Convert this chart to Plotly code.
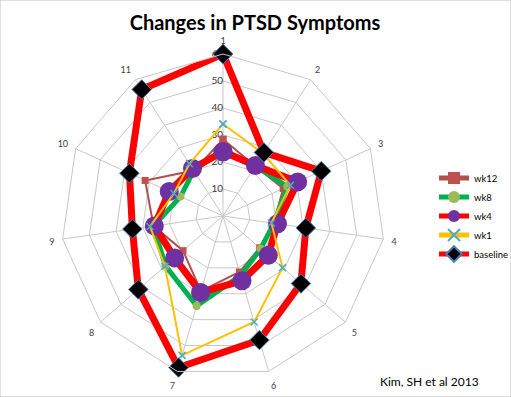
import plotly.graph_objects as go

categories = ["1", "2", "3", "4", "5", "6", "7", "8", "9", "10", "11"]
baseline = [60, 28, 40, 31, 38.2, 47.9, 58.5, 41.5, 33.9, 38.1, 55.7]
wk1 = [34.1, 27.5, 27.4, 18.1, 29.2, 40.9, 53.8, 28.5, 27.3, 20, 23]
wk4 = [23.8, 22.2, 30.4, 20.4, 22.2, 25, 29.5, 23.7, 25.7, 21.9, 20.9]
wk8 = [24.5, 22, 26.2, 19, 18.5, 23, 34.7, 28.2, 26, 17.3, 20]
wk12 = [28.4, 22, 24.5, 19, 18, 21.6, 29, 19.6, 26, 31.7, 20]

radial_ticks = [0, 10, 20, 30, 40, 50, 60]

def closed(vals):
    return vals + vals[:1]

theta = closed(categories)

fig = go.Figure()

# radial tick labels drawn as text on the first spoke (left of the axis)
fig.add_trace(go.Scatterpolar(
    r=radial_ticks, theta=[categories[0]] * len(radial_ticks),
    mode="text", text=[str(v) for v in radial_ticks],
    textposition="middle left", textfont=dict(size=10, color="#404040"),
    showlegend=False, hoverinfo="skip",
))

fig.add_trace(go.Scatterpolar(
    r=closed(wk12), theta=theta, name="wk12", mode="lines+markers",
    line=dict(color="#B0504D", width=2),
    marker=dict(symbol="square", size=7, color="#C0504D"),
))
fig.add_trace(go.Scatterpolar(
    r=closed(wk8), theta=theta, name="wk8", mode="lines+markers",
    line=dict(color="#00B050", width=5),
    marker=dict(symbol="circle", size=8, color="#9BBB59"),
))
fig.add_trace(go.Scatterpolar(
    r=closed(wk4), theta=theta, name="wk4", mode="lines+markers",
    line=dict(color="#FF0000", width=7),
    marker=dict(symbol="circle", size=19, color="#7030A0"),
))
fig.add_trace(go.Scatterpolar(
    r=closed(wk1), theta=theta, name="wk1", mode="lines+markers",
    line=dict(color="#FFC000", width=2),
    marker=dict(symbol="x-thin-open", size=7, color="#4BACC6",
                line=dict(color="#4BACC6", width=1.5)),
))
fig.add_trace(go.Scatterpolar(
    r=closed(baseline), theta=theta, name="baseline", mode="lines+markers",
    line=dict(color="#FF0000", width=7),
    marker=dict(symbol="diamond", size=15, color="#000000",
                line=dict(color="#4A7EBB", width=1)),
))

W, H = 511, 397
cx, cy, R = 223, 216, 162

fig.update_layout(
    width=W, height=H,
    margin=dict(l=0, r=0, t=0, b=0, autoexpand=False),
    paper_bgcolor="white",
    plot_bgcolor="white",
    font=dict(family="Lato, Open Sans, sans-serif", size=9, color="#404040"),
    title=dict(text="<b>Changes in PTSD Symptoms</b>", x=255 / W, xanchor="center",
               y=1 - 23 / H, yanchor="middle",
               font=dict(family="Lato, Open Sans, sans-serif", size=20, color="#000000")),
    polar=dict(
        domain=dict(x=[(cx - R) / W, (cx + R) / W],
                    y=[(H - cy - R) / H, (H - cy + R) / H]),
        bgcolor="white",
        gridshape="linear",
        angularaxis=dict(
            type="category", categoryarray=categories,
            direction="clockwise", rotation=90,
            gridcolor="#C8C8C8", linecolor="#C8C8C8", showline=True,
            ticks="outside", ticklen=6, tickcolor="rgba(0,0,0,0)",
            tickfont=dict(size=9, color="#404040"),
        ),
        radialaxis=dict(
            range=[0, 60], tickvals=radial_ticks,
            angle=90, showticklabels=False,
            showline=False, ticks="", gridcolor="#C8C8C8",
        ),
    ),
    showlegend=True,
    legend=dict(x=434 / W, y=1 - 216 / H, xanchor="left", yanchor="middle",
                traceorder="normal", tracegroupgap=0, itemwidth=30,
                itemsizing="constant",
                font=dict(size=9.5, color="#000000"), bgcolor="rgba(0,0,0,0)"),
    shapes=[dict(type="rect", xref="paper", yref="paper", x0=0, y0=0, x1=1, y1=1,
                 line=dict(color="#BFBFBF", width=1))],
    annotations=[dict(text="Kim, SH et al 2013", xref="paper", yref="paper",
                      x=481 / W, y=1 - 381 / H, xanchor="right", yanchor="middle",
                      showarrow=False, font=dict(size=12, color="#000000"))],
)

fig.write_html("out.html", config={"displayModeBar": False},
               post_script="document.body.style.margin='0';")
